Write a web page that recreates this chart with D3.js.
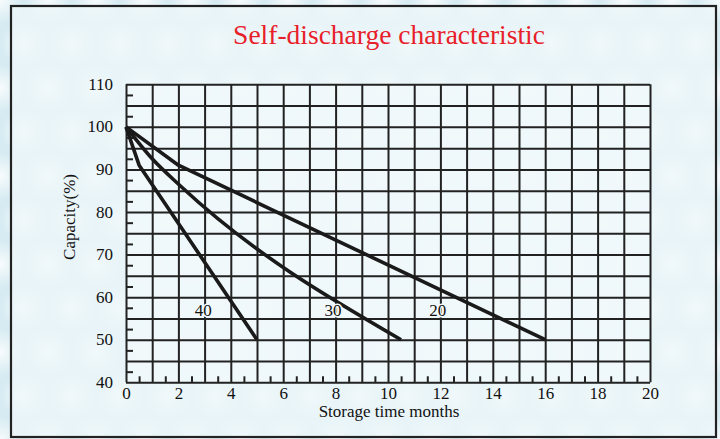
<!DOCTYPE html>
<html>
<head>
<meta charset="utf-8">
<script src="https://cdn.jsdelivr.net/npm/d3@7/dist/d3.min.js"></script>
<style>
  html, body { margin: 0; padding: 0; background: #d9ecf3; }
  svg { display: block; }
</style>
</head>
<body>
<svg id="chart" width="720" height="439"></svg>
<script>
// ---- data ----
const titleText = "Self-discharge characteristic";
const xLabel = "Storage time months";
const yLabel = "Capacity(%)";
const xTickLabels = [0, 2, 4, 6, 8, 10, 12, 14, 16, 18, 20];
const yTickLabels = [40, 50, 60, 70, 80, 90, 100, 110];
const seriesNames = ["40", "30", "20"];
const series40 = [[0, 100], [0.5, 91], [5, 50]];
const series30 = [[0, 100], [1, 92.5], [2.1, 86], [10.5, 50]];
const series20 = [[0, 100], [2, 91], [16, 50]];
const labelPos = [[2.95, 57], [7.9, 57], [11.9, 57]];

const svg = d3.select("#chart");
const W = 720, H = 439;

// background pattern (soft bubbles)
const defs = svg.append("defs");
const radial = defs.append("radialGradient").attr("id", "bub");
radial.append("stop").attr("offset", "0%").attr("stop-color", "#ffffff").attr("stop-opacity", 0.8);
radial.append("stop").attr("offset", "100%").attr("stop-color", "#ffffff").attr("stop-opacity", 0);

svg.append("rect").attr("width", W).attr("height", H).attr("fill", "#d6ebf2");
const bubbleG = svg.append("g");
for (let by = 0; by < H + 40; by += 44) {
  for (let bx = ((by / 44) % 2) * 24; bx < W + 40; bx += 48) {
    bubbleG.append("circle").attr("cx", bx).attr("cy", by).attr("r", 24).attr("fill", "url(#bub)");
  }
}

// frame
svg.append("rect").attr("x", 11).attr("y", 6).attr("width", 705).attr("height", 431)
  .attr("fill", "#eef7fa").attr("fill-opacity", 0.75)
  .attr("stroke", "#222").attr("stroke-width", 2.2);

// scales
const x = d3.scaleLinear().domain([0, 20]).range([126, 650]);
const y = d3.scaleLinear().domain([40, 110]).range([382.3, 84.3]);
const serif = "'Liberation Serif', 'Times New Roman', serif";
const gridColor = "#222";

// plot background
svg.append("rect").attr("x", x(0)).attr("y", y(110)).attr("width", x(20) - x(0)).attr("height", y(40) - y(110))
  .attr("fill", "#f4fafc").attr("fill-opacity", 0.6);

// grid via axes
const gx = svg.append("g").attr("transform", `translate(0,${y(40)})`)
  .call(d3.axisBottom(x).tickValues(d3.range(0, 21, 1)).tickSize(-(y(40) - y(110))).tickFormat(""));
const gy = svg.append("g").attr("transform", `translate(${x(0)},0)`)
  .call(d3.axisLeft(y).tickValues(d3.range(40, 111, 5)).tickSize(-(x(20) - x(0))).tickFormat(""));
[gx, gy].forEach(g => {
  g.select(".domain").remove();
  g.selectAll(".tick line").attr("stroke", gridColor).attr("stroke-width", 2);
});

// minor ticks (inside)
const mx = svg.append("g").attr("transform", `translate(0,${y(40)})`)
  .call(d3.axisBottom(x).tickValues(d3.range(0.5, 20, 1)).tickSize(-6).tickFormat(""));
const my = svg.append("g").attr("transform", `translate(${x(0)},0)`)
  .call(d3.axisLeft(y).tickValues(d3.range(42.5, 110, 5)).tickSize(-7).tickFormat(""));
[mx, my].forEach(g => {
  g.select(".domain").remove();
  g.selectAll(".tick line").attr("stroke", gridColor).attr("stroke-width", 2);
});

// tick labels
const lx = svg.append("g").attr("transform", `translate(0,${y(40)})`)
  .call(d3.axisBottom(x).tickValues(xTickLabels).tickSize(0).tickPadding(5).tickFormat(d3.format("d")));
const ly = svg.append("g").attr("transform", `translate(${x(0)},0)`)
  .call(d3.axisLeft(y).tickValues(yTickLabels).tickSize(0).tickPadding(13).tickFormat(d3.format("d")));
[lx, ly].forEach(g => {
  g.select(".domain").remove();
  g.selectAll("text").attr("font-family", serif).attr("font-size", 17).attr("fill", "#111");
});
ly.selectAll(".tick text").attr("dy", "0.3em");

// curves
const line = d3.line().x(d => x(d[0])).y(d => y(d[1])).curve(d3.curveMonotoneX);
const straight = d3.line().x(d => x(d[0])).y(d => y(d[1]));
[series40, series30, series20].forEach((s, i) => {
  svg.append("path").datum(s).attr("d", i === 1 ? line : straight)
    .attr("fill", "none").attr("stroke", "#1a1a1a").attr("stroke-width", 3.6)
    .attr("stroke-linejoin", "round").attr("stroke-linecap", "butt");
});

// curve labels
seriesNames.forEach((n, i) => {
  svg.append("text").attr("x", x(labelPos[i][0])).attr("y", y(labelPos[i][1]))
    .attr("text-anchor", "middle").attr("dy", "0.35em")
    .attr("font-family", serif).attr("font-size", 17).attr("fill", "#111")
    .attr("stroke", "#f2f9fc").attr("stroke-width", 3).attr("paint-order", "stroke")
    .text(n);
});

// title and axis titles
svg.append("text").attr("x", 389).attr("y", 44).attr("text-anchor", "middle")
  .attr("font-family", serif).attr("font-size", 27.5).attr("fill", "#e8202a").text(titleText);
svg.append("text").attr("x", 389).attr("y", 417).attr("text-anchor", "middle")
  .attr("font-family", serif).attr("font-size", 17).attr("fill", "#111").text(xLabel);
svg.append("text").attr("transform", `translate(75,217) rotate(-90)`).attr("text-anchor", "middle")
  .attr("font-family", serif).attr("font-size", 17).attr("fill", "#111").text(yLabel);
</script>
</body>
</html>
